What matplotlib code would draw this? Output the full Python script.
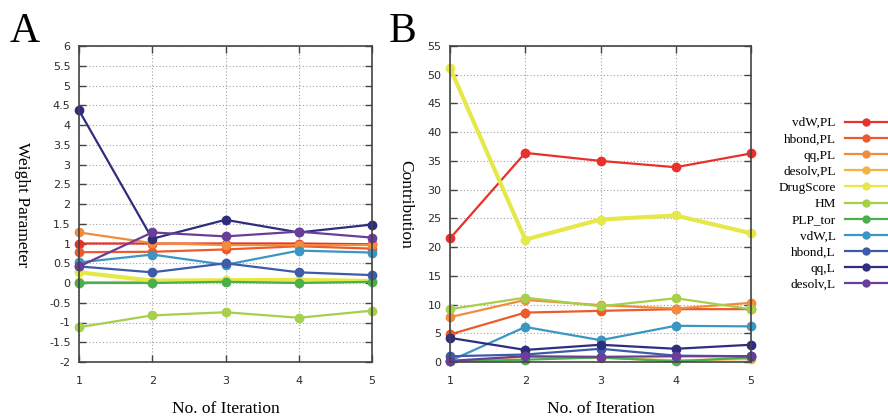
import matplotlib
matplotlib.use('Agg')
import matplotlib.pyplot as plt
from matplotlib.ticker import FuncFormatter, MultipleLocator

plt.rcParams['axes.unicode_minus'] = False

iterations = [1, 2, 3, 4, 5]
names = ['vdW,PL', 'hbond,PL', 'qq,PL', 'desolv,PL', 'DrugScore', 'HM',
         'PLP_tor', 'vdW,L', 'hbond,L', 'qq,L', 'desolv,L']
colors = ['#e8312a', '#ee5a2c', '#f08c3c', '#f3b443', '#e6e84a', '#a6cf4c',
          '#4cae4c', '#3b96c2', '#3d5ba9', '#2f2d7d', '#6a3e98']

# weight parameter per iteration (panel A)
w_vdw_pl = [1.0, 1.0, 1.0, 1.0, 0.98]
w_hbond_pl = [0.78, 0.79, 0.85, 0.93, 0.87]
w_qq_pl = [1.28, 1.01, 0.96, 0.96, 0.96]
w_desolv_pl = [0.02, 0.03, 0.04, 0.05, 0.05]
w_drugscore = [0.27, 0.06, 0.07, 0.08, 0.05]
w_hm = [-1.12, -0.82, -0.74, -0.88, -0.7]
w_plp_tor = [0.0, 0.0, 0.03, 0.0, 0.03]
w_vdw_l = [0.52, 0.72, 0.46, 0.82, 0.77]
w_hbond_l = [0.42, 0.27, 0.5, 0.27, 0.2]
w_qq_l = [4.37, 1.12, 1.6, 1.28, 1.48]
w_desolv_l = [0.42, 1.28, 1.18, 1.3, 1.15]

# contribution per iteration (panel B)
c_vdw_pl = [21.5, 36.4, 35.0, 33.9, 36.3]
c_hbond_pl = [4.8, 8.6, 8.9, 9.2, 9.2]
c_qq_pl = [7.8, 10.8, 9.9, 9.3, 10.3]
c_desolv_pl = [0.1, 0.9, 0.7, 0.3, 0.5]
c_drugscore = [51.2, 21.3, 24.8, 25.5, 22.4]
c_hm = [9.2, 11.2, 9.7, 11.1, 9.2]
c_plp_tor = [0.1, 0.4, 0.8, 0.1, 0.8]
c_vdw_l = [0.2, 6.1, 3.8, 6.3, 6.2]
c_hbond_l = [1.0, 1.3, 2.3, 1.1, 1.0]
c_qq_l = [4.2, 2.1, 3.0, 2.3, 3.0]
c_desolv_l = [0.2, 1.0, 0.9, 1.0, 1.0]

weights = [w_vdw_pl, w_hbond_pl, w_qq_pl, w_desolv_pl, w_drugscore, w_hm,
           w_plp_tor, w_vdw_l, w_hbond_l, w_qq_l, w_desolv_l]
contribs = [c_vdw_pl, c_hbond_pl, c_qq_pl, c_desolv_pl, c_drugscore, c_hm,
            c_plp_tor, c_vdw_l, c_hbond_l, c_qq_l, c_desolv_l]

serif = 'Liberation Serif'
fig = plt.figure(figsize=(8.88, 4.17), dpi=100)
axA = fig.add_axes([79 / 888, 1 - 362 / 417, 293 / 888, 316 / 417])
axB = fig.add_axes([450 / 888, 1 - 362 / 417, 301 / 888, 316 / 417])


def style(ax, ylo, yhi, step):
    ax.set_xlim(1, 5)
    ax.set_ylim(ylo, yhi)
    ax.xaxis.set_major_locator(MultipleLocator(1))
    ax.yaxis.set_major_locator(MultipleLocator(step))
    ax.yaxis.set_major_formatter(FuncFormatter(lambda v, p: '%g' % v))
    ax.tick_params(direction='in', length=5, width=1, color='#444444',
                   top=True, right=True, labelsize=8, labelcolor='#2a2a2a')
    ax.tick_params(axis='y', pad=6)
    ax.tick_params(axis='x', pad=10)
    for s in ax.spines.values():
        s.set_color('#444444')
        s.set_linewidth(1.2)
    ax.grid(True, linestyle=(0, (1, 2)), linewidth=0.8, color='#a0a0a0')
    ax.set_xlabel('No. of Iteration', fontfamily=serif, fontsize=12.5, labelpad=11)


for vals, c, n in zip(weights, colors, names):
    lw = 3 if n == 'DrugScore' else 1.6
    axA.plot(iterations, vals, color=c, lw=lw, marker='o', ms=6, label=n, clip_on=False)
for vals, c, n in zip(contribs, colors, names):
    lw = 3 if n == 'DrugScore' else 1.6
    axB.plot(iterations, vals, color=c, lw=lw, marker='o', ms=6, clip_on=False)

style(axA, -2, 6, 0.5)
style(axB, 0, 55, 5)
axA.set_ylabel('Weight Parameter', fontfamily=serif, fontsize=12.5, rotation=270,
               va='center')
axA.yaxis.set_label_coords(-0.193, 0.5)
axB.set_ylabel('Contribution', fontfamily=serif, fontsize=12.5, rotation=270,
               va='center')
axB.yaxis.set_label_coords(-0.15, 0.5)

fig.text(10 / 888, 1 - 42 / 417, 'A', fontfamily=serif, fontsize=30, va='baseline')
fig.text(389 / 888, 1 - 42 / 417, 'B', fontfamily=serif, fontsize=30, va='baseline')

# legend on the right: labels right-aligned, line+marker after the text
handles, labels = axA.get_legend_handles_labels()
leg = fig.legend(handles, labels, loc='center right',
                 bbox_to_anchor=(887 / 888, 1 - 204 / 417), frameon=False,
                 markerfirst=False, prop={'family': serif, 'size': 9.5},
                 handlelength=3.2, handletextpad=0.7, labelspacing=0.3,
                 borderpad=0, borderaxespad=0)
for line in leg.get_lines():
    line.set_linewidth(1.6)
    line.set_markersize(5)

fig.savefig('out.png', dpi=100)
